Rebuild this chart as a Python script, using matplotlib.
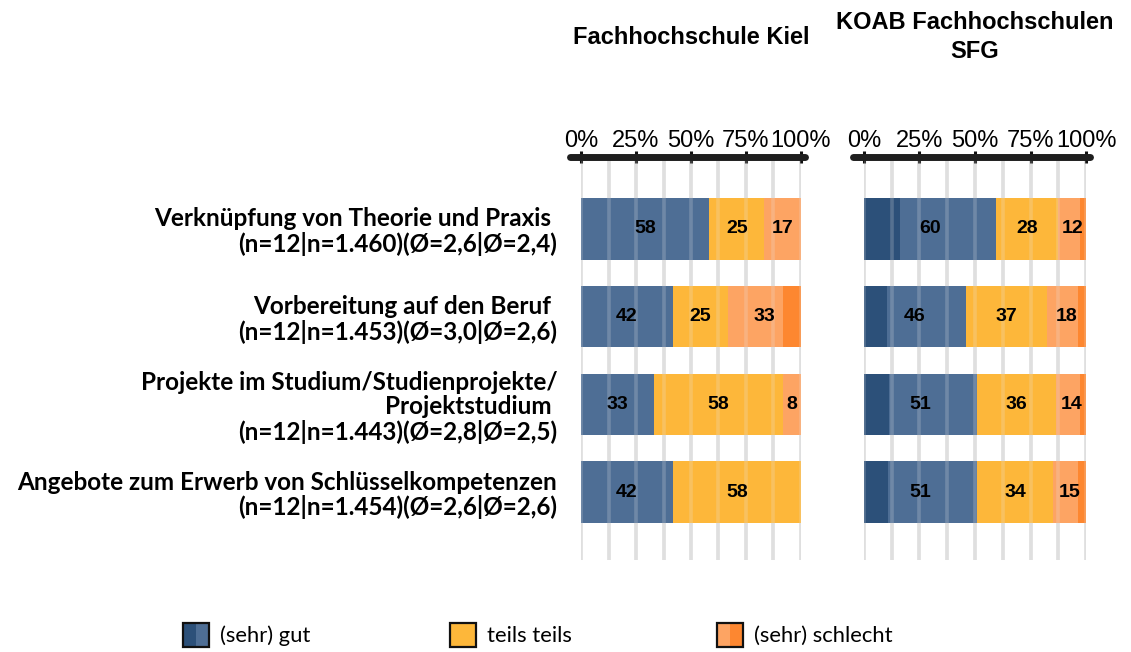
import numpy as np
import matplotlib.pyplot as plt
from matplotlib.patches import Patch, Rectangle

# Categories (row labels)
categories = [
    "Verknüpfung von Theorie und Praxis \n(n=12|n=1.460)(Ø=2,6|Ø=2,4)",
    "Vorbereitung auf den Beruf \n(n=12|n=1.453)(Ø=3,0|Ø=2,6)",
    "Projekte im Studium/Studienprojekte/\nProjektstudium \n(n=12|n=1.443)(Ø=2,8|Ø=2,5)",
    "Angebote zum Erwerb von Schlüsselkompetenzen\n(n=12|n=1.454)(Ø=2,6|Ø=2,6)",
]

# Fachhochschule Kiel (n=12), percent
kiel_sehr_gut = [0.0, 0.0, 0.0, 0.0]
kiel_gut = [58.3, 41.7, 33.3, 41.7]
kiel_teils = [25.0, 25.0, 58.3, 58.3]
kiel_schlecht = [16.7, 25.0, 8.3, 0.0]
kiel_sehr_schlecht = [0.0, 8.3, 0.0, 0.0]

# KOAB Fachhochschulen SFG, percent
koab_sehr_gut = [16.2, 10.2, 11.3, 10.7]
koab_gut = [43.4, 35.6, 39.6, 40.3]
koab_teils = [28.0, 36.7, 35.6, 34.1]
koab_schlecht = [9.8, 14.0, 10.9, 11.3]
koab_sehr_schlecht = [2.6, 3.6, 2.7, 3.6]

panel_titles = ["Fachhochschule Kiel", "KOAB Fachhochschulen\nSFG"]
tick_vals = [0, 25, 50, 75, 100]
legend_labels = ["(sehr) gut", "teils teils", "(sehr) schlecht"]

c_sehr_gut = "#2c5079"
c_gut = "#4e6e95"
c_teils = "#fdb73a"
c_schlecht = "#fda463"
c_sehr_schlecht = "#fd8730"
seg_colors = [c_sehr_gut, c_gut, c_teils, c_schlecht, c_sehr_schlecht]

calibri_like = "Lato"
arial_like = "Liberation Sans"


class SplitHandler:
    """legend key split into colour stripes with a black border"""
    def __init__(self, colors):
        self.colors = colors

    def legend_artist(self, legend, orig_handle, fontsize, handlebox):
        x0, y0 = -handlebox.xdescent, -handlebox.ydescent
        w, h = handlebox.width, handlebox.height
        n = len(self.colors)
        tr = handlebox.get_transform()
        for k, c in enumerate(self.colors):
            handlebox.add_artist(Rectangle((x0 + k * w / n, y0), w / n, h, facecolor=c,
                                           edgecolor="none", transform=tr))
        border = Rectangle((x0, y0), w, h, fill=False, edgecolor="#111111", lw=1.6, transform=tr)
        handlebox.add_artist(border)
        return border


fig = plt.figure(figsize=(11.31, 6.52), dpi=100)
ax1 = fig.add_axes([581 / 1131, 1 - 560 / 652, 220 / 1131, 403 / 652])
ax2 = fig.add_axes([864 / 1131, 1 - 560 / 652, 222 / 1131, 403 / 652])

panels = [
    (ax1, [kiel_sehr_gut, kiel_gut, kiel_teils, kiel_schlecht, kiel_sehr_schlecht]),
    (ax2, [koab_sehr_gut, koab_gut, koab_teils, koab_schlecht, koab_sehr_schlecht]),
]

y = np.arange(len(categories))
bar_h = 0.70

for i, (ax, series) in enumerate(panels):
    left = np.zeros(len(y))
    for vals, col in zip(series, seg_colors):
        ax.barh(y, vals, left=left, height=bar_h, color=col, zorder=2)
        left += np.array(vals)

    # labels for grouped segments: gut, teils, schlecht
    arr = np.array(series)
    groups = [arr[0] + arr[1], arr[2], arr[3] + arr[4]]
    starts = [np.zeros(len(y)), arr[0] + arr[1], arr[0] + arr[1] + arr[2]]
    for g, s in zip(groups, starts):
        for yy, gv, sv in zip(y, g, s):
            if gv > 0:
                ax.text(sv + gv / 2, yy, f"{int(np.round(gv))}", ha="center", va="center",
                        fontsize=14, fontweight="bold", family=arial_like, zorder=4)

    # grid lines every 12.5 %
    for gx in np.arange(0, 100.1, 12.5):
        ax.axvline(gx, color="#dddddd", lw=2.6, zorder=1)
        ax.axvline(gx, color="#e8e8e8", lw=2.6, alpha=0.22, zorder=3)

    ax.set_xlim(0, 100)
    ax.set_ylim(len(y) - 1 + 0.773, -0.818)
    for sp in ax.spines.values():
        sp.set_visible(False)

    # thick top axis line with round caps
    ax.plot([-5, 102], [1, 1], transform=ax.get_xaxis_transform(), color="#1e1e1e",
            lw=5, solid_capstyle="round", clip_on=False, zorder=5)

    ax.xaxis.tick_top()
    ax.set_xticks(tick_vals)
    ax.set_xticklabels([f"{t}%" for t in tick_vals], family=arial_like, fontsize=17)
    ax.tick_params(axis="x", direction="inout", length=9, width=2.2, color="#111111", pad=-1)

    ax.set_yticks(y)
    if i == 0:
        ax.set_yticklabels(categories, family=calibri_like, fontweight="bold", fontsize=17.5,
                           ha="right", multialignment="right", linespacing=1.08)
        ax.tick_params(axis="y", length=0, pad=17)
    else:
        ax.set_yticklabels([])
        ax.tick_params(axis="y", length=0)

    ax.text(0.5, 1 + 120 / 403, panel_titles[i], transform=ax.transAxes, ha="center", va="center",
            fontsize=17, fontweight="bold", family=arial_like, linespacing=1.35)

# legend: three entries at fixed positions
key_colors = [[c_sehr_gut, c_gut], [c_teils], [c_schlecht, c_sehr_schlecht]]
leg_x = [183, 450, 717]
for cols, lab, lx in zip(key_colors, legend_labels, leg_x):
    h = Patch(facecolor=cols[0])
    fig.legend([h], [lab], loc="center left", bbox_to_anchor=(lx / 1131, 1 - 635 / 652),
               frameon=False, borderpad=0, borderaxespad=0, handlelength=1.2,
               handleheight=1.35, handletextpad=0.5,
               handler_map={h: SplitHandler(cols)},
               prop={"family": calibri_like, "size": 15.8})

fig.savefig("out.png", dpi=100)
